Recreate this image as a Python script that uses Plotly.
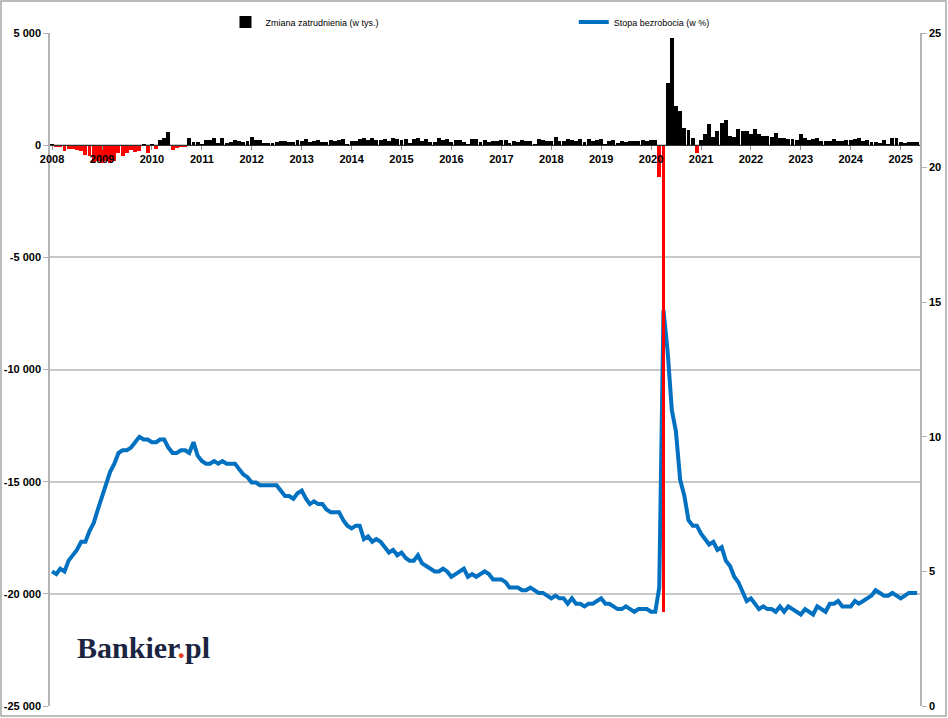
import pandas as pd
import plotly.graph_objects as go

# ---- data (US): monthly change in nonfarm payrolls (thous.) and unemployment rate (%) ----
months = pd.date_range("2008-01-01", periods=209, freq="MS")

payrolls = [
    # 2008
    20, -90, -80, -250, -190, -170, -210, -270, -460, -480, -760, -700,
    # 2009
    -790, -700, -800, -690, -350, -470, -330, -210, -300, -250, 10, -330,
    # 2010
    15, -150, 220, 300, 580, -200, -110, -100, -90, 320, 150, 120,
    # 2011
    60, 220, 250, 320, 90, 300, 80, 120, 230, 200, 150, 200,
    # 2012
    380, 250, 220, 80, 100, 80, 150, 170, 200, 150, 150, 230,
    # 2013
    190, 290, 140, 200, 220, 150, 140, 250, 190, 210, 270, 50,
    # 2014
    190, 170, 270, 320, 220, 300, 230, 220, 280, 200, 320, 280,
    # 2015
    210, 270, 80, 270, 330, 200, 280, 150, 140, 310, 210, 260,
    # 2016
    130, 240, 220, 150, 30, 290, 270, 150, 250, 120, 170, 200,
    # 2017
    230, 210, 100, 190, 140, 220, 180, 200, 20, 280, 220, 170,
    # 2018
    180, 370, 180, 190, 260, 240, 180, 270, 120, 270, 200, 230,
    # 2019
    270, 10, 190, 240, 90, 190, 160, 200, 200, 180, 250, 180,
    # 2020
    220, 250, -1400, -20800, 2760, 4760, 1740, 1520, 750, 670, 340, -360,
    # 2021
    220, 490, 935, 350, 620, 990, 1110, 400, 380, 700, 620, 620,
    # 2022
    520, 720, 480, 420, 400, 380, 560, 330, 300, 290, 280, 250,
    # 2023
    480, 300, 250, 270, 300, 200, 200, 180, 260, 170, 190, 250,
    # 2024
    230, 260, 300, 200, 230, 150, 130, 110, 250, 40, 300, 330,
    # 2025
    120, 110, 150, 150, 140,
]

unemployment = [
    5.0, 4.9, 5.1, 5.0, 5.4, 5.6, 5.8, 6.1, 6.1, 6.5, 6.8, 7.3,
    7.8, 8.3, 8.7, 9.0, 9.4, 9.5, 9.5, 9.6, 9.8, 10.0, 9.9, 9.9,
    9.8, 9.8, 9.9, 9.9, 9.6, 9.4, 9.4, 9.5, 9.5, 9.4, 9.8, 9.3,
    9.1, 9.0, 9.0, 9.1, 9.0, 9.1, 9.0, 9.0, 9.0, 8.8, 8.6, 8.5,
    8.3, 8.3, 8.2, 8.2, 8.2, 8.2, 8.2, 8.0, 7.8, 7.8, 7.7, 7.9,
    8.0, 7.7, 7.5, 7.6, 7.5, 7.5, 7.3, 7.2, 7.2, 7.2, 6.9, 6.7,
    6.6, 6.7, 6.7, 6.2, 6.3, 6.1, 6.2, 6.1, 5.9, 5.7, 5.8, 5.6,
    5.7, 5.5, 5.4, 5.4, 5.6, 5.3, 5.2, 5.1, 5.0, 5.0, 5.1, 5.0,
    4.8, 4.9, 5.0, 5.1, 4.8, 4.9, 4.8, 4.9, 5.0, 4.9, 4.7, 4.7,
    4.7, 4.6, 4.4, 4.4, 4.4, 4.3, 4.3, 4.4, 4.3, 4.2, 4.2, 4.1,
    4.0, 4.1, 4.0, 4.0, 3.8, 4.0, 3.8, 3.8, 3.7, 3.8, 3.8, 3.9,
    4.0, 3.8, 3.8, 3.7, 3.6, 3.6, 3.7, 3.6, 3.5, 3.6, 3.6, 3.6,
    3.5, 3.5, 4.4, 14.7, 13.2, 11.0, 10.2, 8.4, 7.8, 6.9, 6.7, 6.7,
    6.4, 6.2, 6.0, 6.1, 5.8, 5.9, 5.4, 5.2, 4.8, 4.6, 4.2, 3.9,
    4.0, 3.8, 3.6, 3.7, 3.6, 3.6, 3.5, 3.7, 3.5, 3.7, 3.6, 3.5,
    3.4, 3.6, 3.5, 3.4, 3.7, 3.6, 3.5, 3.8, 3.8, 3.9, 3.7, 3.7,
    3.7, 3.9, 3.8, 3.9, 4.0, 4.1, 4.3, 4.2, 4.1, 4.1, 4.2, 4.1,
    4.0, 4.1, 4.2, 4.2, 4.2,
]

year_ticks = [pd.Timestamp(f"{y}-01-01") for y in range(2008, 2026)]
left_tickvals = [5000, 0, -5000, -10000, -15000, -20000, -25000]
left_ticktext = ["5 000", "0", "-5 000", "-10 000", "-15 000", "-20 000", "-25 000"]
right_tickvals = [0, 5, 10, 15, 20, 25]

name_bars = "Zmiana zatrudnienia (w tys.)"
name_line = "Stopa bezrobocia (w %)"

bar_colors = ["#FF0000" if v < 0 else "#000000" for v in payrolls]

fig = go.Figure()

fig.add_trace(go.Scatter(
    x=months, y=unemployment, name=name_line, mode="lines",
    line=dict(color="#0070C0", width=4), yaxis="y", legend="legend2",
    hoverinfo="skip",
))
fig.add_trace(go.Bar(
    x=months, y=payrolls, name=name_bars, yaxis="y2", legend="legend",
    marker=dict(color=bar_colors, line=dict(width=0)),
    width=[29 * 24 * 3600 * 1000] * len(months),
    hoverinfo="skip",
))

tick_font = dict(family="Liberation Sans, Arial, sans-serif", size=11, color="#000000", weight="bold")
legend_font = dict(family="Liberation Sans Narrow, Liberation Sans, Arial, sans-serif", size=9, color="#000000")
axis_gray = "#b4b4b4"

fig.update_layout(
    width=948, height=718,
    margin=dict(l=50, r=28, t=33, b=12, autoexpand=False),
    paper_bgcolor="#FFFFFF", plot_bgcolor="#FFFFFF",
    font=dict(family="Liberation Sans, Arial, sans-serif"),
    bargap=0,
    showlegend=True,
    xaxis=dict(
        type="date",
        range=["2007-12-17", "2025-05-22"],
        tickvals=year_ticks, tickformat="%Y",
        anchor="free", position=25000 / 30000,
        showline=True, linecolor="#303030", linewidth=1,
        ticks="outside", ticklen=4, tickcolor="#909090",
        showgrid=False, zeroline=False, automargin=False,
        tickfont=tick_font,
    ),
    yaxis=dict(
        side="right", range=[0, 25], tickvals=right_tickvals,
        showgrid=False, zeroline=False, automargin=False,
        showline=True, linecolor=axis_gray, linewidth=1.5,
        ticks="outside", ticklen=5, tickcolor=axis_gray,
        tickfont=tick_font,
    ),
    yaxis2=dict(
        overlaying="y", side="left", range=[-25000, 5000],
        tickvals=left_tickvals, ticktext=left_ticktext,
        showgrid=True, gridcolor="#c8c8c8", gridwidth=1.5,
        zeroline=False, automargin=False,
        showline=True, linecolor=axis_gray, linewidth=1.5,
        ticks="outside", ticklen=5, tickcolor=axis_gray,
        tickfont=tick_font,
    ),
    legend=dict(
        orientation="h", x=0.2017, y=(706 - 22) / 673, xanchor="left", yanchor="middle",
        font=legend_font, bgcolor="rgba(0,0,0,0)",
    ),
    legend2=dict(
        orientation="h", x=0.602, y=(706 - 22) / 673, xanchor="left", yanchor="middle",
        font=legend_font, bgcolor="rgba(0,0,0,0)",
    ),
    shapes=[
        dict(type="rect", xref="paper", yref="paper",
             x0=(1 - 50) / 870, x1=(946 - 50) / 870,
             y0=(706 - 716) / 673, y1=(706 - 1) / 673,
             line=dict(color="#a6a6a6", width=1.5), fillcolor="rgba(0,0,0,0)", layer="below"),
    ],
    annotations=[
        dict(text="Bankier<span style='color:#e8401c'>.</span>pl",
             xref="paper", yref="paper", x=(143 - 50) / 870, y=(706 - 647) / 673,
             xanchor="center", yanchor="middle", showarrow=False,
             font=dict(family="Liberation Serif, DejaVu Serif, serif", size=30,
                       color="#1b2441", weight="bold")),
    ],
)

fig.write_html("out.html", config={"displayModeBar": False},
               post_script="document.body.style.margin='0';")
